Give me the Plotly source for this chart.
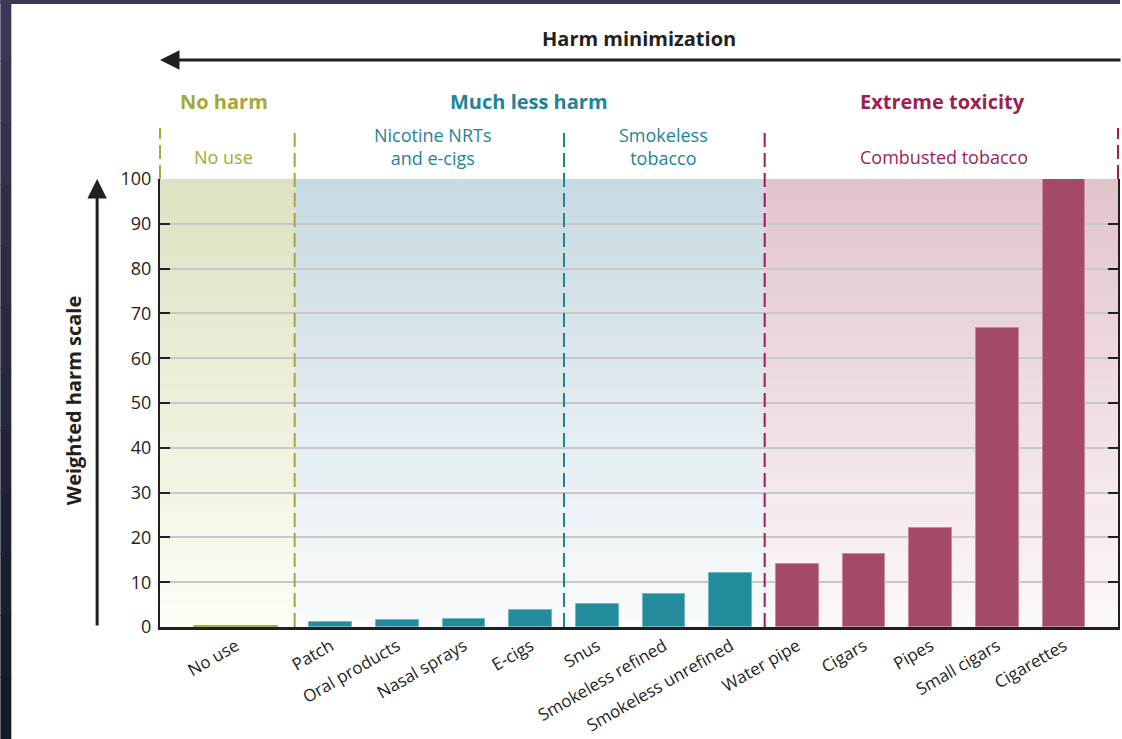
import plotly.graph_objects as go

# ---------------- data ----------------
categories = ["No use", "Patch", "Oral products", "Nasal sprays", "E-cigs", "Snus",
              "Smokeless refined", "Smokeless unrefined", "Water pipe", "Cigars",
              "Pipes", "Small cigars", "Cigarettes"]
harm_values = [0.3, 1.1, 1.5, 1.8, 3.7, 5.2, 7.4, 12.0, 14.1, 16.3, 22.2, 66.8, 100]
groups = ["none", "less", "less", "less", "less", "less", "less", "less",
          "toxic", "toxic", "toxic", "toxic", "toxic"]
y_ticks = [0, 10, 20, 30, 40, 50, 60, 70, 80, 90, 100]

# ---------------- layout constants ----------------
W, H = 1122, 739
ML, MR, MT, MB = 160, 2, 179, 112
XMIN, XMAX = -1.56, 12.81
NO_USE_X = -0.42
B1, B2, B3 = 0.46, 4.50, 7.51   # region boundaries (axis units)
FONT = "Open Sans"

OLIVE, TEAL, CRIMSON = "#a3a836", "#1f8496", "#9c1f52"
bar_fill = {"none": "#a9ad3e", "less": "#248b9d", "toxic": "#a54a66"}
bar_edge = {"none": "#a9ad3e", "less": "#6fb7c3", "toxic": "#c98a9d"}

PW = W - ML - MR
PH = H - MT - MB


def px_x(px):
    return (px - ML) / PW


def px_y(py):
    return (H - MB - py) / PH


def ux(u):
    return (u - XMIN) / (XMAX - XMIN)


xpos = [NO_USE_X] + list(range(1, len(categories)))
widths = [1.25] + [0.64] * (len(categories) - 1)

fig = go.Figure()
fig.add_trace(go.Bar(
    x=xpos, y=harm_values, width=widths,
    marker=dict(color=[bar_fill[g] for g in groups],
                line=dict(color=[bar_edge[g] for g in groups], width=1)),
    hoverinfo="skip", showlegend=False,
))

shapes = []


def hex2rgb(h):
    h = h.lstrip("#")
    return tuple(int(h[i:i + 2], 16) for i in (0, 2, 4))


def lerp(c0, c1, t):
    a, b = hex2rgb(c0), hex2rgb(c1)
    return "rgb(%d,%d,%d)" % tuple(round(a[i] + (b[i] - a[i]) * t) for i in range(3))


regions = [(XMIN, B1, "#fdfdf6", "#e0e0c2"),
           (B1, B3, "#f9fbfc", "#c8dae2"),
           (B3, XMAX, "#fcf8f9", "#e1c4ca")]
N = 60
for x0, x1, cb, ct in regions:
    for k in range(N):
        y0 = 100 * k / N
        y1 = min(100, 100 * (k + 1) / N + 0.6)
        shapes.append(dict(type="rect", xref="x", yref="y", x0=x0, x1=x1, y0=y0, y1=y1,
                           fillcolor=lerp(cb, ct, (k + 0.5) / N), line=dict(width=0),
                           layer="below"))

# dashed region separators
top_dash = px_y(128)
dash = "14px,6px"
for u, c, ybot in [(XMIN, OLIVE, 1.0), (B1, OLIVE, 0.0), (B2, TEAL, 0.0),
                   (B3, CRIMSON, 0.0), (XMAX, CRIMSON, 1.0)]:
    shapes.append(dict(type="line", xref="paper", yref="paper", x0=ux(u), x1=ux(u),
                       y0=ybot, y1=top_dash, line=dict(color=c, width=2, dash=dash),
                       layer="above"))

# dark frame from the original screenshot
yt = px_y(0)
shapes.append(dict(type="rect", xref="paper", yref="paper", x0=px_x(0), x1=px_x(W),
                   y0=px_y(4), y1=yt, fillcolor="#3b3656", line=dict(width=0), layer="above"))
NS = 12
for k in range(NS):
    shapes.append(dict(type="rect", xref="paper", yref="paper", x0=px_x(0), x1=px_x(11),
                       y0=px_y(H * (k + 1) / NS), y1=px_y(H * k / NS) + 0.002,
                       fillcolor=lerp("#3d3858", "#111822", (k + 0.5) / NS),
                       line=dict(width=0), layer="above"))

ann = []
# top arrow
ann.append(dict(xref="paper", yref="paper", x=px_x(160), y=px_y(60), ax=962, ay=0,
                axref="pixel", ayref="pixel", showarrow=True, arrowhead=2, arrowsize=1.3,
                arrowwidth=3, arrowcolor="#231f20", text=""))
ann.append(dict(xref="paper", yref="paper", x=px_x(640), y=px_y(38), text="<b>Harm minimization</b>",
                xanchor="center", yanchor="middle",
                showarrow=False, font=dict(family=FONT, size=20, color="#231f20")))
# y-axis arrow and title
ann.append(dict(xref="paper", yref="paper", x=px_x(97), y=px_y(179), ax=0, ay=448,
                axref="pixel", ayref="pixel", showarrow=True, arrowhead=2, arrowsize=1.3,
                arrowwidth=3, arrowcolor="#231f20", text=""))
ann.append(dict(xref="paper", yref="paper", x=px_x(73), y=px_y(401), text="<b>Weighted harm scale</b>",
                xanchor="center", yanchor="middle",
                textangle=-90, showarrow=False, font=dict(family=FONT, size=20, color="#231f20")))
# group headings
for txt, cx, col in [("No harm", 224, OLIVE), ("Much less harm", 530, TEAL),
                     ("Extreme toxicity", 944, CRIMSON)]:
    ann.append(dict(xref="paper", yref="paper", x=px_x(cx), y=px_y(101), text="<b>%s</b>" % txt,
                    xanchor="center", yanchor="middle",
                    showarrow=False, font=dict(family=FONT, size=20, color=col)))
for txt, cx, cy, col in [("No use", 224, 157, OLIVE),
                         ("Nicotine NRTs<br>and e-cigs", 433, 146.5, TEAL),
                         ("Smokeless<br>tobacco", 665, 146.5, TEAL),
                         ("Combusted tobacco", 946, 157, CRIMSON)]:
    ann.append(dict(xref="paper", yref="paper", x=px_x(cx), y=px_y(cy), text=txt,
                    xanchor="center", yanchor="middle",
                    showarrow=False, font=dict(family=FONT, size=18, color=col)))

fig.update_layout(
    width=W, height=H,
    margin=dict(l=ML, r=MR, t=MT, b=MB, pad=0),
    paper_bgcolor="white", plot_bgcolor="white",
    font=dict(family=FONT, color="#231f20"),
    shapes=shapes, annotations=ann, bargap=0,
    xaxis=dict(range=[XMIN, XMAX], tickmode="array", tickvals=xpos, ticktext=categories,
               tickangle=-30, tickfont=dict(size=17, color="#231f20"), showgrid=False,
               zeroline=False, showline=True, linecolor="#231f20", linewidth=2.5, ticks=""),
    yaxis=dict(range=[0, 100], tickmode="array", tickvals=y_ticks, ticks="inside",
               ticklen=10, tickwidth=2, tickcolor="#231f20", showline=True,
               linecolor="#231f20", linewidth=2, mirror="ticks", showgrid=True,
               gridcolor="#c8c8c8", gridwidth=1.5, zeroline=False, ticklabelstandoff=3,
               tickfont=dict(size=18, color="#231f20")),
)

fig.write_html("out.html", config={"displayModeBar": False},
               post_script="document.body.style.margin='0px';")
